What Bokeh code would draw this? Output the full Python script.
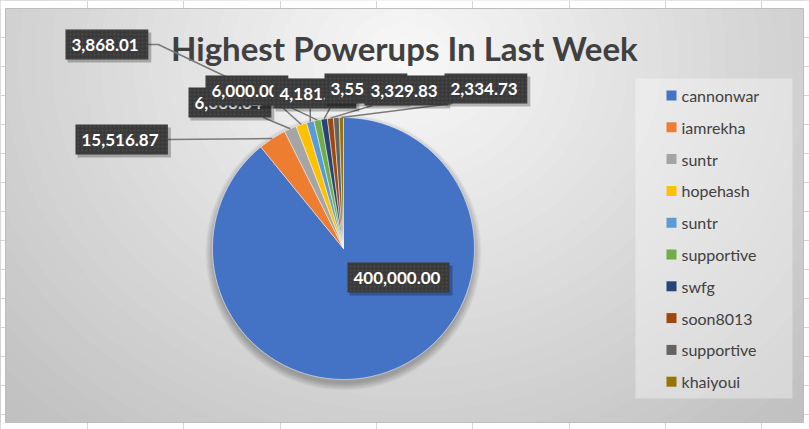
import numpy as np
from bokeh.plotting import figure
from bokeh.models import Range1d
from bokeh.core.properties import value
from bokeh.embed import file_html
from bokeh.resources import INLINE

# ---------------- data ----------------
names = ["cannonwar", "iamrekha", "suntr", "hopehash", "suntr",
         "supportive", "swfg", "soon8013", "supportive", "khaiyoui"]
powerups = [400000.00, 15516.87, 6888.84, 6000.00, 4181.17,
            3868.01, 3552.40, 3329.83, 3150.00, 2334.73]
colors = ["#4472C4", "#ED7D31", "#A5A5A5", "#FFC000", "#5B9BD5",
          "#70AD47", "#264478", "#9E480E", "#636363", "#997300"]
title = "Highest Powerups In Last Week"

# ---------------- layout (pixels from top-left) ----------------
W, H = 809, 429
def Y(py):
    return H - py

CA = dict(left=5, right=803, top=8, bottom=422)       # chart area
PIE_X, PIE_Y, PIE_R = 343, 248, 131
# label box (left x, centre y) per slice; None = hidden label
label_pos = [(347, 277), (75, 139), (188, 102), (205, 90), (273, 93),
             (65, 44), (324, 88), (364, 90), None, (444, 88)]
label_order = [0, 1, 2, 3, 4, 5, 6, 7, 9]
BOX_H = 30

p = figure(width=W, height=H, x_range=Range1d(0, W), y_range=Range1d(0, H),
           output_backend="svg", toolbar_location=None, min_border=0,
           x_axis_type=None, y_axis_type=None, outline_line_color=None,
           background_fill_color="white", border_fill_color="white")

# ---- chart area radial gradient ----
N = 40
gcx, gcy = 405, Y(60)
ts = np.linspace(1.2, 0.02, N)
gcols = []
for t in ts:
    g = int(round(249 - 57 * min(t, 1.06) / 1.06))
    gcols.append("#%02x%02x%02x" % (g, g, g))
p.ellipse(x=[gcx] * N, y=[gcy] * N, width=list(2 * 540 * ts),
          height=list(2 * 470 * ts), fill_color=gcols, line_color=None)

# white outside chart area
p.quad(left=[0, CA["right"], 0, 0], right=[CA["left"], W, W, W],
       top=[H, H, H, Y(CA["bottom"])], bottom=[0, 0, Y(CA["top"]), 0],
       fill_color="white", line_color=None)
# spreadsheet gridlines in margins
vx = [87, 183, 280, 376, 472, 569, 665, 761]
p.segment(x0=vx, y0=[H] * len(vx), x1=vx, y1=[Y(CA["top"])] * len(vx),
          line_color="#d4d4d4", line_width=1)
p.segment(x0=vx, y0=[0] * len(vx), x1=vx, y1=[Y(CA["bottom"])] * len(vx),
          line_color="#d4d4d4", line_width=1)
hy = [Y(37 + 29 * k) for k in range(14)]
p.segment(x0=[0] * len(hy), y0=hy, x1=[CA["left"]] * len(hy), y1=hy,
          line_color="#d4d4d4", line_width=1)
p.segment(x0=[CA["right"]] * len(hy), y0=hy, x1=[W] * len(hy), y1=hy,
          line_color="#d4d4d4", line_width=1)
p.quad(left=[CA["left"]], right=[CA["right"]], top=[Y(CA["top"])],
       bottom=[Y(CA["bottom"])], fill_color=None, line_color="#bdbdbd",
       line_width=1)

# ---- title ----
p.text(x=[404], y=[Y(47)], text=[title], text_align="center",
       text_baseline="middle", text_font=value("Lato"),
       text_font_style="bold", text_font_size=value("33px"),
       text_color="#404040")

# ---- pie shadow ----
for k in range(8):
    p.circle(x=[PIE_X], y=[Y(PIE_Y + 4)], radius=PIE_R + k,
             fill_color="black", fill_alpha=0.035, line_color=None)

# ---- pie ----
vals = np.array(powerups)
frac = vals / vals.sum()
cum = np.concatenate([[0.0], np.cumsum(frac)])
start = np.pi / 2 - 2 * np.pi * cum[:-1]
end = np.pi / 2 - 2 * np.pi * cum[1:]
p.wedge(x=PIE_X, y=Y(PIE_Y), radius=PIE_R, start_angle=list(start),
        end_angle=list(end), direction="clock", fill_color=colors,
        line_color="white", line_alpha=0.5, line_width=1)

mid = (start + end) / 2
ex = PIE_X + PIE_R * np.cos(mid)
ey = Y(PIE_Y) + PIE_R * np.sin(mid)

labels = [f"{v:,.2f}" for v in powerups]
def box_w(s):
    return 9.6 * len(s) + 6

# ---- leader lines ----
for i in label_order:
    if i == 0:
        continue
    bl, bcy = label_pos[i]
    br = bl + box_w(labels[i])
    if i == 5:
        xs = [br, br + 10, ex[i]]
        ys = [Y(bcy), Y(bcy), ey[i]]
    elif i == 1:
        xs = [br, ex[i]]
        ys = [Y(bcy), ey[i]]
    else:
        ax = min(max(ex[i], bl + 8), br - 8)
        xs = [ax, ex[i]]
        ys = [Y(bcy + BOX_H / 2), ey[i]]
    p.line(x=xs, y=ys, line_color="#7a7a7a", line_width=1.5)

# ---- data labels ----
for i in label_order:
    bl, bcy = label_pos[i]
    w = box_w(labels[i])
    p.quad(left=[bl + 2], right=[bl + w + 3], top=[Y(bcy - BOX_H / 2 + 3)],
           bottom=[Y(bcy + BOX_H / 2 + 3)], fill_color="black",
           fill_alpha=0.25, line_color=None)
    p.quad(left=[bl], right=[bl + w], top=[Y(bcy - BOX_H / 2)],
           bottom=[Y(bcy + BOX_H / 2)], fill_color="#3a3a3a",
           line_color=None, hatch_pattern="dot", hatch_color="#555555",
           hatch_scale=4, hatch_weight=1, hatch_alpha=0.6)
    p.text(x=[bl + 6], y=[Y(bcy)], text=[labels[i]], text_align="left",
           text_baseline="middle", text_font=value("Lato"),
           text_font_style="bold", text_font_size=value("17px"),
           text_color="white")

# ---- legend ----
p.quad(left=[635], right=[792], top=[Y(78)], bottom=[Y(398)],
       fill_color="white", fill_alpha=0.35, line_color=None)
ly = [Y(95 + 31.8 * i) for i in range(len(names))]
p.rect(x=[671] * len(names), y=ly, width=10, height=10, fill_color=colors,
       line_color=None)
p.text(x=[681] * len(names), y=ly, text=names, text_align="left",
       text_baseline="middle", text_font=value("Lato"),
       text_font_size=value("16px"), text_color="#404040")

open("out.html", "w").write(file_html(p, INLINE))
